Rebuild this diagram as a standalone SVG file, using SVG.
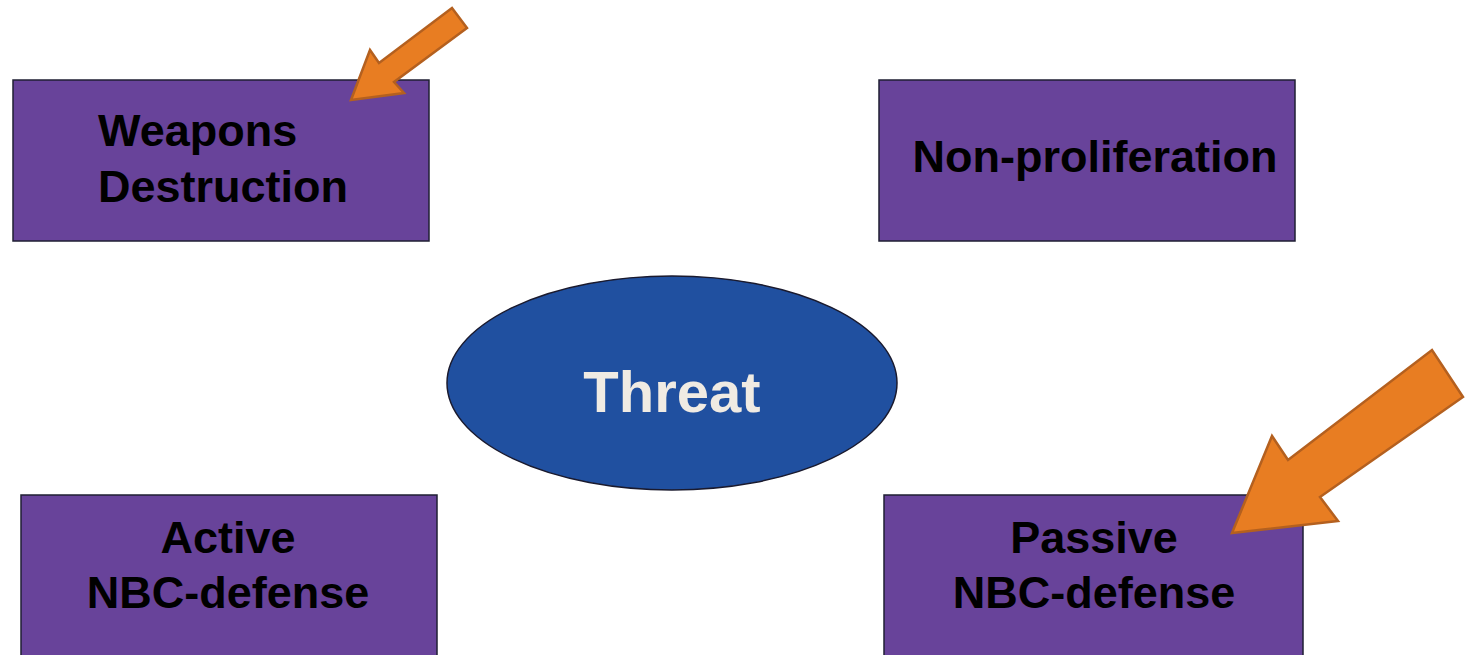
<svg xmlns="http://www.w3.org/2000/svg" width="1470" height="655" viewBox="0 0 1470 655">
<style>
.box{fill:#68439a;stroke:#1f1f33;stroke-width:1.5}
.lbl{font-family:"Liberation Sans",Arial,sans-serif;font-weight:bold;font-size:45px;fill:#000}
.arrow{fill:#e87d22;stroke:#b4601f;stroke-width:2.5;stroke-linejoin:miter}
</style>
<rect width="1470" height="655" fill="#ffffff"/>
<g id="weapons">
<rect class="box" x="13" y="80" width="416" height="161"/>
<text class="lbl" x="98" y="146">Weapons</text>
<text class="lbl" x="98" y="202">Destruction</text>
</g>
<g id="nonprolif">
<rect class="box" x="879" y="80" width="416" height="161"/>
<text class="lbl" x="1095" y="172" text-anchor="middle">Non-proliferation</text>
</g>
<g id="threat">
<ellipse cx="672" cy="383" rx="225" ry="107" fill="#2050a0" stroke="#1a1a2e" stroke-width="1.5"/>
<text x="672" y="412" text-anchor="middle" font-family="Liberation Sans, Arial, sans-serif" font-weight="bold" font-size="58" fill="#f0ebe3">Threat</text>
</g>
<g id="active">
<rect class="box" x="21" y="495" width="416" height="170"/>
<text class="lbl" x="228" y="553" text-anchor="middle">Active</text>
<text class="lbl" x="228" y="608" text-anchor="middle">NBC-defense</text>
</g>
<g id="passive">
<rect class="box" x="884" y="495" width="419" height="170"/>
<text class="lbl" x="1094" y="553" text-anchor="middle">Passive</text>
<text class="lbl" x="1094" y="608" text-anchor="middle">NBC-defense</text>
</g>
<g id="connectors">
<polygon class="arrow" points="351,100 370,50 379,63 452,8 467,28 394,82 404,93"/>
<polygon class="arrow" points="1232,533 1272,436 1288,460 1432,350 1463,397 1320,497 1338,521"/>
</g>
</svg>
